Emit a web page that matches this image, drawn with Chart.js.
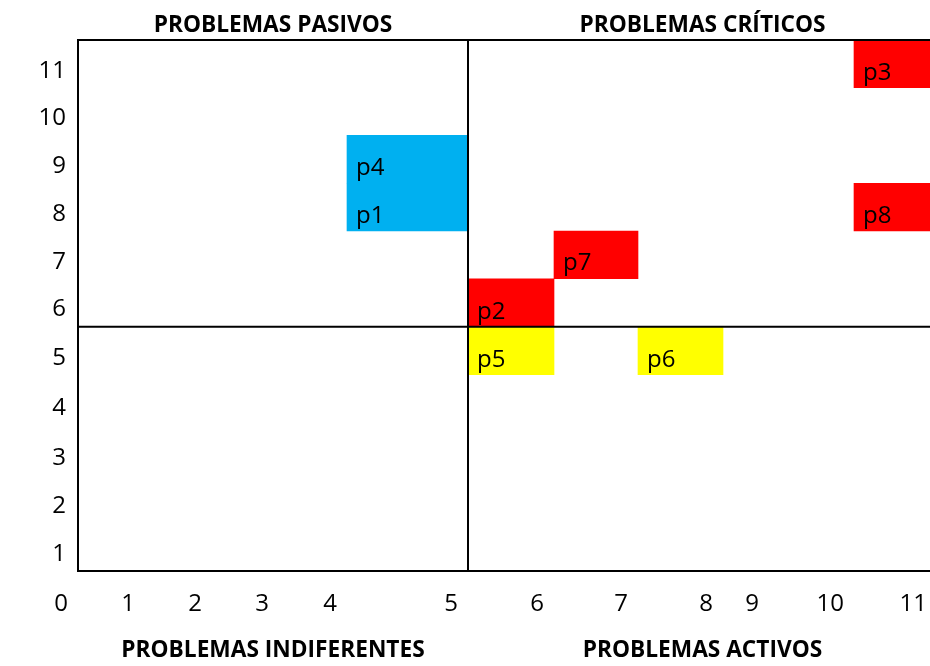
<!DOCTYPE html>
<html lang="es">
<head>
<meta charset="utf-8">
<title>Matriz de problemas</title>
<script src="https://cdn.jsdelivr.net/npm/chart.js@4.4.1/dist/chart.umd.min.js"></script>
<style>
  html, body { margin: 0; padding: 0; background: #fff; overflow: hidden; }
  #wrap { position: relative; width: 938px; height: 666px; }
</style>
</head>
<body>
<div id="wrap"><canvas id="matriz"></canvas></div>
<script>
// Problemas: influencia (eje X) y dependencia (eje Y)
const PROBLEMAS   = ['p1', 'p2', 'p3', 'p4', 'p5', 'p6', 'p7', 'p8'];
const INFLUENCIA  = [5, 6, 11, 5, 6, 8, 7, 11];
const DEPENDENCIA = [8, 6, 11, 9, 5, 5, 7, 8];

// Marcas de los ejes
const TICKS_X = [0, 1, 2, 3, 4, 5, 6, 7, 8, 9, 10, 11];
const TICKS_Y = [1, 2, 3, 4, 5, 6, 7, 8, 9, 10, 11];

// Corte entre cuadrantes
const CORTE_X = 5.5;
const CORTE_Y = 5.5;

// Títulos de los cuadrantes
const TITULO_PASIVOS      = 'PROBLEMAS PASIVOS';
const TITULO_CRITICOS     = 'PROBLEMAS CRÍTICOS';
const TITULO_INDIFERENTES = 'PROBLEMAS INDIFERENTES';
const TITULO_ACTIVOS      = 'PROBLEMAS ACTIVOS';

// Tamaño de cada celda de la rejilla: columnas 1..11 y filas 1..11 (px)
const ANCHO_COLUMNAS = [67, 67, 67, 68, 121, 86, 84, 85, 46, 85, 83];
const ALTO_FILAS     = [48.5, 47, 48, 52.5, 48, 48.3, 47.3, 48, 48, 47, 48];

// Colores por cuadrante
const COLORES = {
  criticos: '#FF0000',
  pasivos: '#00B0F0',
  activos: '#FFFF00',
  indiferentes: '#92D050'
};

const FUENTE = '"Open Sans", "Liberation Sans", sans-serif';

function cuadrante(x, y) {
  if (x > CORTE_X && y > CORTE_Y) return 'criticos';
  if (x < CORTE_X && y > CORTE_Y) return 'pasivos';
  if (x > CORTE_X && y < CORTE_Y) return 'activos';
  return 'indiferentes';
}

// Escala lineal por tramos: cada unidad ocupa el tamaño de su celda
class CeldasScale extends Chart.LinearScale {
  static id = 'celdas';
  _tamanos() {
    return this.options.celdas || [];
  }
  _decimal(value) {
    const tam = this._tamanos();
    const total = tam.reduce((a, b) => a + b, 0);
    let d = value - this.min;
    let acum = 0;
    for (let i = 0; i < tam.length; i++) {
      if (d <= 1 || i === tam.length - 1) return (acum + d * tam[i]) / total;
      acum += tam[i];
      d -= 1;
    }
    return 0;
  }
  getPixelForValue(value) {
    if (value === null || value === undefined || isNaN(value)) return NaN;
    return this.getPixelForDecimal(this._decimal(value));
  }
  getValueForPixel(pixel) {
    const tam = this._tamanos();
    const total = tam.reduce((a, b) => a + b, 0);
    const pos = this.getDecimalForPixel(pixel) * total;
    let acum = 0;
    for (let i = 0; i < tam.length; i++) {
      if (pos <= acum + tam[i] || i === tam.length - 1) return this.min + i + (pos - acum) / tam[i];
      acum += tam[i];
    }
    return this.max;
  }
}
Chart.register(CeldasScale);

const puntos = PROBLEMAS.map((p, i) => ({
  x: [INFLUENCIA[i] - 0.5, INFLUENCIA[i] + 0.5],
  y: DEPENDENCIA[i]
}));
const colores = PROBLEMAS.map((p, i) => COLORES[cuadrante(INFLUENCIA[i], DEPENDENCIA[i])]);

// Rótulos, divisiones de cuadrantes, marco y títulos
const matrizPlugin = {
  id: 'matriz',
  beforeDraw(chart) {
    const ctx = chart.ctx;
    ctx.save();
    ctx.fillStyle = '#fff';
    ctx.fillRect(0, 0, chart.width, chart.height);
    ctx.restore();
  },
  afterDatasetsDraw(chart) {
    const ctx = chart.ctx;
    const xs = chart.scales.x, ys = chart.scales.y;
    const area = chart.chartArea;
    ctx.save();

    // nombre de cada problema dentro de su celda
    ctx.font = '24px ' + FUENTE;
    ctx.fillStyle = '#000';
    ctx.textAlign = 'left';
    ctx.textBaseline = 'alphabetic';
    PROBLEMAS.forEach((p, i) => {
      const izq = xs.getPixelForValue(INFLUENCIA[i] - 0.5);
      const abajo = ys.getPixelForValue(DEPENDENCIA[i] - 0.5);
      ctx.fillText(p, izq + 9, abajo - 8);
    });

    // divisiones
    const cx = xs.getPixelForValue(CORTE_X);
    const cy = ys.getPixelForValue(CORTE_Y);
    ctx.strokeStyle = '#000';
    ctx.lineWidth = 2;
    ctx.beginPath();
    ctx.moveTo(cx, area.top);
    ctx.lineTo(cx, area.bottom);
    ctx.moveTo(area.left, cy);
    ctx.lineTo(area.right, cy);
    ctx.stroke();
    ctx.strokeRect(area.left, area.top, area.right - area.left, area.bottom - area.top);

    // títulos de cuadrante
    ctx.font = 'bold 22.7px ' + FUENTE;
    ctx.textAlign = 'center';
    const izqC = (area.left + cx) / 2;
    const derC = (cx + area.right) / 2;
    ctx.fillText(TITULO_PASIVOS, izqC, area.top - 8);
    ctx.fillText(TITULO_CRITICOS, derC, area.top - 8);
    ctx.fillText(TITULO_INDIFERENTES, izqC, area.bottom + 86);
    ctx.fillText(TITULO_ACTIVOS, derC, area.bottom + 86);
    ctx.restore();
  }
};

new Chart(document.getElementById('matriz'), {
  type: 'bar',
  data: {
    datasets: [{
      data: puntos,
      backgroundColor: colores,
      borderWidth: 0,
      borderSkipped: false,
      categoryPercentage: 1,
      barPercentage: 1
    }]
  },
  options: {
    indexAxis: 'y',
    responsive: true,
    maintainAspectRatio: false,
    animation: false,
    layout: { autoPadding: false, padding: { top: 40, left: 0, right: 1, bottom: 0 } },
    plugins: {
      legend: { display: false },
      tooltip: { enabled: false },
      title: { display: false }
    },
    scales: {
      x: {
        type: 'celdas',
        celdas: ANCHO_COLUMNAS,
        position: 'bottom',
        min: 0.5,
        max: 11.5,
        bounds: 'data',
        grid: { display: false, drawTicks: false },
        border: { display: false },
        afterBuildTicks: (s) => { s.ticks = TICKS_X.map(v => ({ value: v + 0.5 })); },
        afterFit: (s) => {
          s.height = 95;
          s.paddingLeft = 0;
          s.paddingRight = 0;
        },
        ticks: {
          autoSkip: false,
          maxRotation: 0,
          align: 'end',
          labelOffset: -10,
          padding: 19,
          color: '#000',
          font: { family: FUENTE, size: 24 },
          callback: (v) => String(Math.round(v - 0.5))
        }
      },
      y: {
        type: 'celdas',
        celdas: ALTO_FILAS,
        position: 'left',
        min: 0.5,
        max: 11.5,
        bounds: 'data',
        grid: { display: false, drawTicks: false },
        border: { display: false },
        afterBuildTicks: (s) => { s.ticks = TICKS_Y.map(v => ({ value: v })); },
        afterFit: (s) => { s.width = 78; },
        ticks: {
          autoSkip: false,
          padding: 12,
          labelOffset: 7,
          color: '#000',
          font: { family: FUENTE, size: 24 },
          callback: (v) => String(v)
        }
      }
    }
  },
  plugins: [matrizPlugin]
});
</script>
</body>
</html>
